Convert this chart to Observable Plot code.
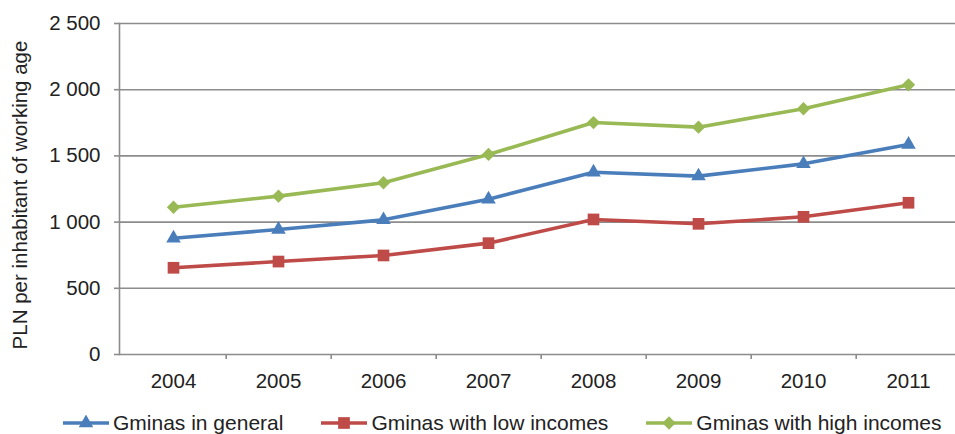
<!DOCTYPE html>
<html>
<head>
<meta charset="utf-8">
<script src="https://cdn.jsdelivr.net/npm/d3@7"></script>
<script src="https://cdn.jsdelivr.net/npm/@observablehq/plot@0.6"></script>
<style>
  html, body { margin: 0; padding: 0; background: #fff; }
  body { width: 955px; height: 434px; overflow: hidden; font-family: "Liberation Sans", Arial, sans-serif; }
  #legend { position: relative; height: 46px; display: flex; align-items: center; padding-left: 63px; font-size: 21px; color: #222; white-space: nowrap; }
  .item { display: flex; align-items: center; margin-right: 38px; flex-shrink: 0; }
  .item svg { margin-right: 4px; flex-shrink: 0; }
</style>
</head>
<body>
<div id="chart"></div>
<div id="legend"></div>
<script>
const years = ["2004", "2005", "2006", "2007", "2008", "2009", "2010", "2011"];
const general = [878, 944, 1017, 1173, 1377, 1347, 1440, 1586];
const lowIncome = [655, 702, 748, 841, 1020, 987, 1040, 1146];
const highIncome = [1112, 1196, 1297, 1511, 1752, 1717, 1856, 2037];
const seriesNames = ["Gminas in general", "Gminas with low incomes", "Gminas with high incomes"];
const seriesValues = [general, lowIncome, highIncome];
const seriesColors = ["#4A7EBB", "#BE4B48", "#98B954"];
const seriesSymbols = ["triangle", "square", "diamond2"];
const seriesSymbolR = [5.4, 6.6, 6.0];
const yTicks = [0, 500, 1000, 1500, 2000, 2500];
const yTickLabels = ["0", "500", "1 000", "1 500", "2 000", "2 500"];
const yLabel = "PLN per inhabitant of working age";

const W = 955, H = 400;
const xRange = [119, 962];
const step = (xRange[1] - xRange[0]) / years.length;
const axisColor = "#8c8c8c";

const marks = [
  Plot.ruleY(yTicks, {stroke: axisColor, strokeWidth: 1.6}),
  Plot.frame({anchor: "left", stroke: axisColor, strokeWidth: 1.6}),
  Plot.axisY({ticks: yTicks, tickSize: 5, tickPadding: 14, stroke: axisColor, strokeWidth: 1.6,
    tickFormat: d => yTickLabels[yTicks.indexOf(d)], fontSize: 20.5, fill: "#222", label: null}),
  Plot.axisX({tickSize: 0, tickPadding: 19, fontSize: 20.5, fill: "#222", label: null}),
  Plot.axisX({tickSize: 5, dx: step / 2, stroke: axisColor, strokeWidth: 1.6, tickFormat: () => "", label: null}),
  Plot.text([yLabel], {frameAnchor: "left", dx: -99, dy: 6, rotate: -90, textAnchor: "middle", fontSize: 20.5, fill: "#222"})
];

seriesNames.forEach((name, i) => {
  const data = years.map((y, j) => ({year: y, value: seriesValues[i][j], series: name}));
  marks.push(Plot.line(data, {x: "year", y: "value", stroke: seriesColors[i], strokeWidth: 3.6, curve: "linear"}));
  marks.push(Plot.dot(data, {x: "year", y: "value", fill: seriesColors[i], symbol: seriesSymbols[i], r: seriesSymbolR[i], stroke: "none"}));
});

const chart = Plot.plot({
  width: W,
  height: H,
  marginTop: 23,
  marginBottom: 46,
  marginLeft: 119,
  marginRight: 0,
  style: {fontFamily: "'Liberation Sans', Arial, sans-serif", background: "#fff", overflow: "visible"},
  x: {type: "point", domain: years, range: xRange, padding: 0.5},
  y: {domain: [0, 2500]},
  marks
});
document.getElementById("chart").appendChild(chart);

// Legend
const legend = d3.select("#legend");
seriesNames.forEach((name, i) => {
  const item = legend.append("div").attr("class", "item");
  const svg = item.append("svg").attr("width", 46).attr("height", 16);
  svg.append("line").attr("x1", 0).attr("x2", 46).attr("y1", 8).attr("y2", 8)
    .attr("stroke", seriesColors[i]).attr("stroke-width", 3.6);
  const sym = {triangle: d3.symbolTriangle, square: d3.symbolSquare, diamond2: d3.symbolDiamond2}[seriesSymbols[i]];
  svg.append("path").attr("transform", "translate(23,8)")
    .attr("d", d3.symbol(sym, Math.PI * seriesSymbolR[i] ** 2)())
    .attr("fill", seriesColors[i]);
  item.append("span").text(name);
});
</script>
</body>
</html>
